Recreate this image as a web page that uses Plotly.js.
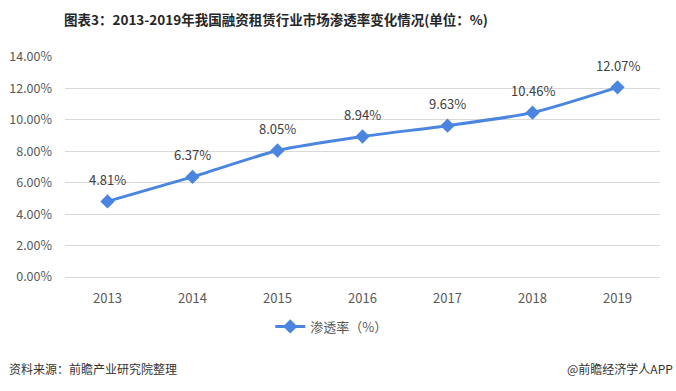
<!DOCTYPE html>
<html>
<head>
<meta charset="utf-8">
<script src="https://cdn.plot.ly/plotly-3.0.1.min.js"></script>
<style>html,body{margin:0;padding:0;background:#fff;}#chart{width:676px;height:391px;}</style>
</head>
<body>
<div id="chart"></div>
<script>
const years = ['2013','2014','2015','2016','2017','2018','2019'];
const penetration = [4.81, 6.37, 8.05, 8.94, 9.63, 10.46, 12.07];
const seriesName = '渗透率（%）';
const yTicks = [0, 2, 4, 6, 8, 10, 12, 14];
const yTickText = yTicks.map(v => v.toFixed(2) + '%');
const labels = penetration.map(v => v.toFixed(2) + '%');

const font = '"Microsoft YaHei", "Noto Sans CJK SC", "Noto Sans", sans-serif';

const trace = {
  x: years,
  y: penetration,
  name: seriesName,
  type: 'scatter',
  mode: 'lines+markers',
  line: {color: '#4a86e0', width: 3, shape: 'spline', smoothing: 0.6},
  marker: {symbol: 'diamond', size: 11, color: '#4a86e0'},
  cliponaxis: false,
  hoverinfo: 'x+y'
};

// category axis: annotation x given as category index
const dataLabels = years.map((yr, i) => ({
  x: i, y: penetration[i], xref: 'x', yref: 'y',
  text: labels[i], showarrow: false, yshift: 22,
  font: {family: font, size: 13, color: '#404040'}
}));

const layout = {
  width: 676, height: 391,
  margin: {l: 65, r: 16, t: 57, b: 114},
  paper_bgcolor: '#fff', plot_bgcolor: '#fff',
  font: {family: font, size: 12, color: '#595959'},
  showlegend: true,
  title: {
    text: '<b>图表3：2013-2019年我国融资租赁行业市场渗透率变化情况(单位：%)</b>',
    font: {family: '"Noto Sans CJK SC", sans-serif', size: 13.5, color: '#262626'},
    x: 64 / 676, xanchor: 'left', xref: 'container',
    y: 1 - 20 / 391, yanchor: 'middle', yref: 'container'
  },
  xaxis: {
    type: 'category',
    range: [-0.5, 6.5],
    showgrid: false,
    showline: true, linecolor: '#d9d9d9', linewidth: 1,
    ticks: '', tickfont: {size: 13, color: '#595959'},
    ticklabelstandoff: 9,
    zeroline: false, fixedrange: true
  },
  yaxis: {
    range: [0, 14],
    tickvals: yTicks, ticktext: yTickText,
    showgrid: true, gridcolor: '#d9d9d9', gridwidth: 1,
    zeroline: false, showline: false, ticks: '',
    tickfont: {size: 12.5, color: '#595959'},
    ticklabelstandoff: 12,
    fixedrange: true
  },
  legend: {
    orientation: 'h', x: 0.345, xanchor: 'left', y: -0.225, yanchor: 'middle',
    font: {size: 13, color: '#595959'}
  },
  annotations: dataLabels.concat([
    {text: '资料来源：前瞻产业研究院整理', xref: 'paper', yref: 'paper', x: -0.098, xanchor: 'left',
     y: -0.415, yanchor: 'middle', showarrow: false, font: {size: 12, color: '#333'}},
    {text: '@前瞻经济学人APP', xref: 'paper', yref: 'paper', x: 1.025, xanchor: 'right',
     y: -0.415, yanchor: 'middle', showarrow: false, font: {size: 12, color: '#333'}}
  ])
};

Plotly.newPlot('chart', [trace], layout, {displayModeBar: false, staticPlot: true});
</script>
</body>
</html>
